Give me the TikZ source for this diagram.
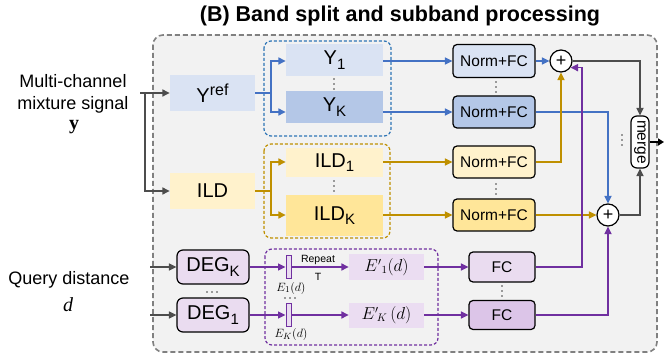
\documentclass[tikz,border=0pt]{standalone}
\usepackage{fontspec}
\setmainfont{Liberation Sans}
\newfontfamily\serifface{Liberation Serif}
\usetikzlibrary{arrows.meta}
\definecolor{bluea}{HTML}{DAE3F3}
\definecolor{blueb}{HTML}{B4C7E7}
\definecolor{yela}{HTML}{FFF2CC}
\definecolor{yelb}{HTML}{FFE699}
\definecolor{pura}{HTML}{EADCF0}
\definecolor{purb}{HTML}{DCC5E8}
\definecolor{purc}{HTML}{EBDDF2}
\definecolor{lblue}{HTML}{4472C4}
\definecolor{gblue}{HTML}{2E75B6}
\definecolor{lgold}{HTML}{BF9000}
\definecolor{lpur}{HTML}{7030A0}
\definecolor{lgray}{HTML}{4D4D4D}
\definecolor{bggray}{HTML}{F2F2F2}
\definecolor{dgray}{HTML}{808080}
\newcommand\fsz[1]{\fontsize{#1}{#1}\selectfont}
\begin{document}
\begin{tikzpicture}[x=1pt,y=-1pt,
  tip/.style={-{Triangle[length=7.5pt,width=7pt]}},
  ln/.style={line width=1.6pt, tip},
  bl/.style={ln, draw=lblue},
  gd/.style={ln, draw=lgold},
  pu/.style={ln, draw=lpur},
  gy/.style={ln, draw=lgray},
  flat/.style={inner sep=0pt, font=\fsz{20}},
  rbox/.style={draw=black, line width=1.2pt, rounded corners=4pt, inner sep=0pt, font=\fsz{15.5}},
  grp/.style={line width=1.2pt, rounded corners=7pt, dash pattern=on 3pt off 2pt},
  lbl/.style={inner sep=0pt, align=center},
  pls/.style={circle, draw=black, line width=1.2pt, fill=white, minimum size=22pt, inner sep=0pt, font=\fsz{18}},
  ebox/.style={draw=lpur, line width=1pt, fill=pura, minimum width=5pt, minimum height=23pt, inner sep=0pt},
  vd/.pic={\fill[black!75] (0,-5) circle (0.9pt) (0,0) circle (0.9pt) (0,5) circle (0.9pt);},
  hd/.pic={\fill[black!75] (-5,0) circle (0.8pt) (0,0) circle (0.8pt) (5,0) circle (0.8pt);}
]
\useasboundingbox (0,0) rectangle (664,358);
\fill[white] (0,0) rectangle (664,358);

% title
\node[font=\fsz{21.5}\bfseries, inner sep=0pt] (title) at (400,16) {(B) Band split and subband processing};

% outer box
\draw[dgray, line width=1.6pt, dash pattern=on 5pt off 3pt, fill=bggray, rounded corners=10pt] (153,35) rectangle (657,352);

% groups
\draw[grp, draw=gblue] (264,41) rectangle (391,136);
\draw[grp, draw=lgold] (264,144) rectangle (390,238);
\draw[grp, draw=lpur] (265,249) rectangle (438,345);

% left labels
\node[lbl, font=\fsz{18}] (mc) at (73,81) {Multi-channel};
\node[lbl, font=\fsz{18}] (ms) at (73,105) {mixture signal};
\node[lbl, font=\fsz{20}\serifface\bfseries] (yv) at (74,127) {y};
\node[lbl, font=\fsz{18}] (qd) at (69,280) {Query distance};
\node[lbl, font=\fsz{20}\serifface\itshape] (dv) at (68,305) {d};

% input boxes
\node[flat, fill=bluea, minimum width=85pt, minimum height=36pt] (yref) at (212.5,93) {Y{\fsz{16}\raisebox{0.45em}{ref}}};
\node[flat, fill=yela, minimum width=85pt, minimum height=36pt] (ild) at (212.5,191) {ILD};

% split boxes
\node[flat, fill=bluea, minimum width=97pt, minimum height=32pt] (y1) at (334.5,60) {Y{\fsz{15}\raisebox{-0.3em}{1}}};
\node[flat, fill=blueb, minimum width=97pt, minimum height=32pt] (yk) at (334.5,107) {Y{\fsz{15}\raisebox{-0.3em}{K}}};
\node[flat, fill=yela, minimum width=97pt, minimum height=29pt] (ild1) at (334.5,162.5) {ILD{\fsz{15}\raisebox{-0.3em}{1}}};
\node[flat, fill=yelb, minimum width=97pt, minimum height=41pt] (ildk) at (334.5,215.5) {ILD{\fsz{15}\raisebox{-0.3em}{K}}};
\pic at (334,84) {vd};
\pic at (334,186) {vd};

% Norm+FC
\node[rbox, fill=bluea, minimum width=82pt, minimum height=33pt] (n1) at (494,61) {Norm+FC};
\node[rbox, fill=blueb, minimum width=82pt, minimum height=32pt] (n2) at (494,112) {Norm+FC};
\node[rbox, fill=yela, minimum width=82pt, minimum height=32pt] (n3) at (494,162) {Norm+FC};
\node[rbox, fill=yelb, minimum width=82pt, minimum height=32pt] (n4) at (494,215) {Norm+FC};
\pic at (496,87) {vd};
\pic at (496,189) {vd};

% DEG
\node[rbox, fill=pura, rounded corners=6pt, font=\fsz{20}, minimum width=72pt, minimum height=34pt] (degk) at (213,267) {DEG{\fsz{15}\raisebox{-0.3em}{K}}};
\node[rbox, fill=pura, rounded corners=6pt, font=\fsz{20}, minimum width=72pt, minimum height=34pt] (deg1) at (213,315) {DEG{\fsz{15}\raisebox{-0.3em}{1}}};
\pic at (212,292) {hd};

% E boxes
\node[ebox] (e1) at (288.5,267) {};
\node[ebox] (ek) at (288.5,315) {};
\node[inner sep=0pt, font=\fsz{13}] (e1l) at (291,288) {$E_1(d)$};
\pic at (290,298) {hd};
\node[inner sep=0pt, font=\fsz{13}] (ekl) at (291,334) {$E_K(d)$};
\node[inner sep=0pt, fill=purc, minimum width=75pt, minimum height=26pt, font=\fsz{16}] (ep1) at (386.5,267) {${E'}_{1}(d)$};
\node[inner sep=0pt, fill=purc, minimum width=75pt, minimum height=25pt, font=\fsz{16}] (epk) at (386.5,315) {${E'}_{\!K}\,(d)$};
\node[inner sep=0pt, font=\fsz{10.5}] (rep) at (318,260) {Repeat};
\node[inner sep=0pt, font=\fsz{10.5}] (rt) at (318,277) {T};

% FC
\node[rbox, fill=pura, minimum width=66pt, minimum height=30pt] (fc1) at (502,267) {FC};
\node[rbox, fill=purb, minimum width=66pt, minimum height=29pt] (fc2) at (502,315) {FC};
\pic at (502,291) {vd};

% plus & merge
\node[pls] (p1) at (561,61) {+};
\node[pls] (p2) at (608,215) {+};
\node[rbox, fill=white, rounded corners=6pt, minimum width=18pt, minimum height=52pt] (merge) at (640,142) {\rotatebox{-90}{merge}};
\pic at (622,140) {vd};

% input connectors
\coordinate (yin) at (140,93);
\coordinate (ysp) at (145,93);
\coordinate (qk) at (150,267);
\coordinate (q1) at (150,315);
\coordinate (out) at (664,142);
\coordinate (pv) at (582,0);
\draw[gy] (yin) -- (yref.west);
\draw[gy] (ysp) |- (ild.west);
\draw[gy] (qk) -- (degk.west);
\draw[gy] (q1) -- (deg1.west);

% blue
\coordinate (jy) at (271,93);
\draw[line width=1.6pt, lblue] (yref.east) -- (jy);
\draw[bl] (jy) |- (y1.west |- n1.west);
\draw[bl] (jy) |- (yk.west |- n2.west);
\draw[bl] (y1.east |- n1.west) -- (n1.west);
\draw[bl] (yk.east |- n2.west) -- (n2.west);
\draw[bl] (n1.east) -- (p1.west);
\draw[bl] (n2.east) -| (p2.north);

% gold
\coordinate (ji) at (271,191);
\draw[line width=1.6pt, lgold] (ild.east) -- (ji);
\draw[gd] (ji) |- (ild1.west |- n3.west);
\draw[gd] (ji) |- (ildk.west |- n4.west);
\draw[gd] (ild1.east |- n3.west) -- (n3.west);
\draw[gd] (ildk.east |- n4.west) -- (n4.west);
\draw[gd] (n3.east) -| (p1.south);
\draw[gd] (n4.east) -- (p2.west);

% purple
\draw[pu] (degk.east) -- (e1.west);
\draw[pu] (deg1.east) -- (ek.west);
\draw[pu] (e1.east) -- (ep1.west);
\draw[pu] (ek.east) -- (epk.west);
\draw[pu] (ep1.east) -- (fc1.west);
\draw[pu] (epk.east) -- (fc2.west);
\draw[pu] (fc1.east) -| (pv |- p1.-35) -- (p1.-35);
\draw[pu] (fc2.east) -| (p2.south);

% to merge
\draw[gy] (p1.east) -| (merge.north);
\draw[gy] (p2.east) -| (merge.south);
\draw[line width=1.8pt, black, -{Triangle[length=6pt,width=7pt]}] (merge.east) -- (out);
\end{tikzpicture}
\end{document}
